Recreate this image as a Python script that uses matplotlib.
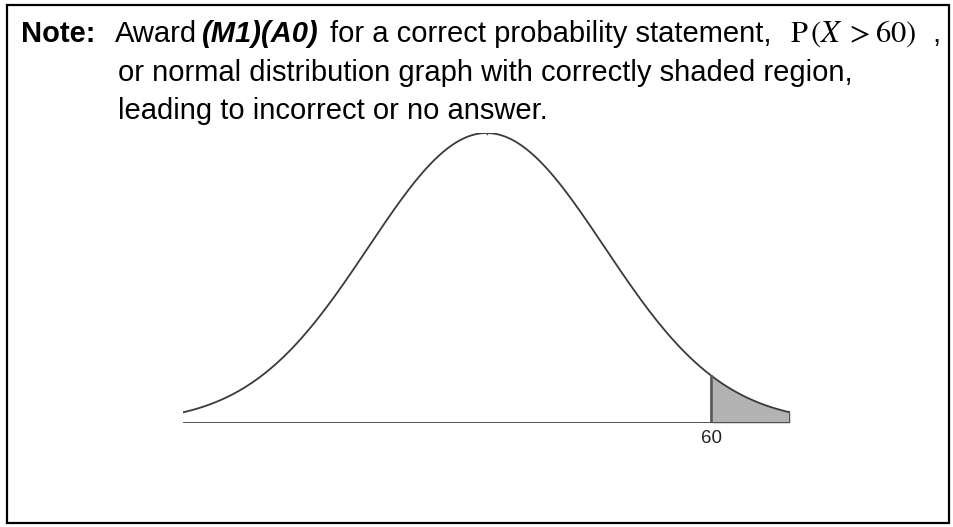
import numpy as np
import matplotlib
matplotlib.use("Agg")
from matplotlib import pyplot as plt
from matplotlib.patches import Rectangle

# normal curve
MU = 50.0
SIGMA = 5.25
X_RANGE = [36.5, 63.5]
CUTOFF = 60
CUTOFF_LABEL = "60"

LINE_1 = ["Note:", "Award", "(M1)(A0)", "for a correct probability statement,"]
PROB = r"$\mathrm{P}\,(X\;>60)$"
LINE_2 = "or normal distribution graph with correctly shaded region,"
LINE_3 = "leading to incorrect or no answer."

W, H = 954, 527
fig = plt.figure(figsize=(W / 100, H / 100), dpi=100)
plt.rcParams['mathtext.fontset'] = 'stix'
sans = ['Liberation Sans', 'DejaVu Sans']

# frame
fig.patches.append(Rectangle((7 / W, 4 / H), 942 / W, 518 / H, transform=fig.transFigure,
                             fill=False, edgecolor='black', linewidth=1.6))

def px(x, y):
    return x / W, 1 - y / H

fs = 21
fig.text(*px(21, 42), LINE_1[0], family=sans, weight='bold', fontsize=fs, va='baseline')
fig.text(*px(115, 42), LINE_1[1], family=sans, fontsize=fs, va='baseline')
fig.text(*px(202, 42), LINE_1[2], family=sans, weight='bold', style='italic', fontsize=fs, va='baseline')
fig.text(*px(330, 42), LINE_1[3], family=sans, fontsize=fs, va='baseline')
fig.text(*px(790, 42), PROB, fontsize=fs + 1, va='baseline')
fig.text(*px(932, 42), ",", family=sans, fontsize=fs, va='baseline')
fig.text(*px(118, 81), LINE_2, family=sans, fontsize=fs, va='baseline')
fig.text(*px(118, 119), LINE_3, family=sans, fontsize=fs, va='baseline')

# curve axes
x0, x1, ytop, ybase = 183, 790, 133, 423
ax = fig.add_axes([x0 / W, 1 - ybase / H, (x1 - x0) / W, (ybase - ytop) / H])
x = np.linspace(X_RANGE[0], X_RANGE[1], 400)
y = np.exp(-0.5 * ((x - MU) / SIGMA) ** 2)
ax.plot(x, y, color='#3a3a3a', linewidth=1.3)
xs = x[x >= CUTOFF]
ax.fill_between(xs, 0, np.exp(-0.5 * ((xs - MU) / SIGMA) ** 2), color='#b3b3b3', linewidth=0)
ycut = np.exp(-0.5 * ((CUTOFF - MU) / SIGMA) ** 2)
ax.plot([CUTOFF, CUTOFF], [0, ycut], color='#5a5a5a', linewidth=2)
yend = np.exp(-0.5 * ((X_RANGE[1] - MU) / SIGMA) ** 2)
ax.plot([X_RANGE[1], X_RANGE[1]], [0, yend], color='#505050', linewidth=1.4)
ax.axhline(0, color='#444444', linewidth=2)
ax.plot([MU, MU], [0.995, 1.008], color='#3a3a3a', linewidth=1)
ax.set_xlim(X_RANGE)
ax.set_ylim(0, 1)
ax.axis('off')
ax.text(CUTOFF, -0.025, CUTOFF_LABEL, ha='center', va='top', fontsize=13.5,
        family=sans, color='#222222')

fig.savefig("out.png", dpi=100)
